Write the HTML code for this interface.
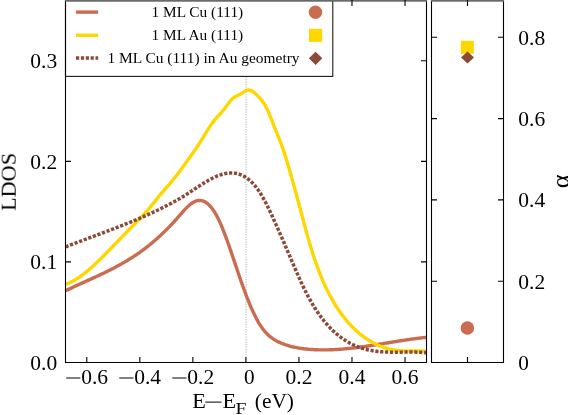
<!DOCTYPE html>
<html><head><meta charset="utf-8"><title>LDOS</title>
<style>html,body{margin:0;padding:0;background:#fff}svg{display:block}text{font-family:"Liberation Serif",serif;fill:#000}</style>
</head><body>
<svg width="568" height="415" viewBox="0 0 568 415">
<rect x="0" y="0" width="568" height="415" fill="#fff"/>
<line x1="246.1" y1="76.5" x2="246.1" y2="362" stroke="#c8c8c8" stroke-width="1.4" stroke-dasharray="1.2 1.3"/>
<path d="M65.50 290.83L66.50 290.34L67.50 289.85L68.50 289.37L69.50 288.89L70.50 288.42L71.50 287.95L72.50 287.48L73.50 287.01L74.50 286.54L75.50 286.08L76.50 285.62L77.50 285.16L78.50 284.70L79.50 284.24L80.50 283.78L81.50 283.33L82.50 282.87L83.50 282.42L84.50 281.96L85.50 281.51L86.50 281.06L87.50 280.60L88.50 280.15L89.50 279.70L90.50 279.24L91.50 278.78L92.50 278.33L93.50 277.87L94.50 277.41L95.50 276.95L96.50 276.49L97.50 276.02L98.50 275.56L99.50 275.09L100.50 274.62L101.50 274.14L102.50 273.67L103.50 273.19L104.50 272.71L105.50 272.22L106.50 271.73L107.50 271.24L108.50 270.74L109.50 270.24L110.50 269.74L111.50 269.23L112.50 268.72L113.50 268.20L114.50 267.68L115.50 267.15L116.50 266.61L117.50 266.08L118.50 265.53L119.50 264.98L120.50 264.43L121.50 263.87L122.50 263.30L123.50 262.72L124.50 262.14L125.50 261.56L126.50 260.96L127.50 260.36L128.50 259.75L129.50 259.14L130.50 258.51L131.50 257.88L132.50 257.24L133.50 256.59L134.50 255.94L135.50 255.27L136.50 254.60L137.50 253.92L138.50 253.23L139.50 252.53L140.50 251.82L141.50 251.10L142.50 250.37L143.50 249.63L144.50 248.88L145.50 248.12L146.50 247.35L147.50 246.57L148.50 245.78L149.50 244.98L150.50 244.17L151.50 243.35L152.50 242.51L153.50 241.67L154.50 240.81L155.50 239.94L156.50 239.06L157.50 238.17L158.50 237.27L159.50 236.36L160.50 235.43L161.50 234.49L162.50 233.55L163.50 232.59L164.50 231.61L165.50 230.63L166.50 229.64L167.50 228.63L168.50 227.61L169.50 226.58L170.50 225.53L171.50 224.48L172.50 223.41L173.50 222.33L174.50 221.24L175.50 220.13L176.50 219.01L177.50 217.88L178.50 216.74L179.50 215.59L180.50 214.44L181.50 213.30L182.50 212.16L183.50 211.05L184.50 209.96L185.50 208.89L186.50 207.87L187.50 206.88L188.50 205.94L189.50 205.06L190.50 204.23L191.50 203.47L192.50 202.79L193.50 202.18L194.50 201.65L195.50 201.21L196.50 200.87L197.50 200.62L198.50 200.46L199.50 200.40L200.50 200.44L201.50 200.58L202.50 200.82L203.50 201.16L204.50 201.61L205.50 202.15L206.50 202.81L207.50 203.57L208.50 204.43L209.50 205.41L210.50 206.49L211.50 207.69L212.50 208.99L213.50 210.41L214.50 211.95L215.50 213.60L216.50 215.37L217.50 217.25L218.50 219.25L219.50 221.37L220.50 223.59L221.50 225.91L222.50 228.32L223.50 230.81L224.50 233.39L225.50 236.03L226.50 238.74L227.50 241.50L228.50 244.32L229.50 247.18L230.50 250.07L231.50 253.00L232.50 255.94L233.50 258.91L234.50 261.88L235.50 264.85L236.50 267.82L237.50 270.78L238.50 273.72L239.50 276.65L240.50 279.55L241.50 282.42L242.50 285.25L243.50 288.05L244.50 290.79L245.50 293.49L246.50 296.13L247.50 298.71L248.50 301.22L249.50 303.67L250.50 306.05L251.50 308.37L252.50 310.60L253.50 312.77L254.50 314.85L255.50 316.86L256.50 318.78L257.50 320.62L258.50 322.38L259.50 324.04L260.50 325.61L261.50 327.09L262.50 328.49L263.50 329.80L264.50 331.03L265.50 332.18L266.50 333.27L267.50 334.28L268.50 335.23L269.50 336.11L270.50 336.94L271.50 337.71L272.50 338.43L273.50 339.11L274.50 339.74L275.50 340.33L276.50 340.89L277.50 341.41L278.50 341.90L279.50 342.37L280.50 342.82L281.50 343.24L282.50 343.65L283.50 344.04L284.50 344.41L285.50 344.76L286.50 345.10L287.50 345.42L288.50 345.72L289.50 346.01L290.50 346.29L291.50 346.55L292.50 346.79L293.50 347.02L294.50 347.24L295.50 347.45L296.50 347.65L297.50 347.83L298.50 348.00L299.50 348.17L300.50 348.32L301.50 348.46L302.50 348.60L303.50 348.73L304.50 348.84L305.50 348.96L306.50 349.06L307.50 349.16L308.50 349.26L309.50 349.34L310.50 349.42L311.50 349.49L312.50 349.56L313.50 349.62L314.50 349.68L315.50 349.73L316.50 349.77L317.50 349.81L318.50 349.84L319.50 349.86L320.50 349.88L321.50 349.90L322.50 349.91L323.50 349.91L324.50 349.91L325.50 349.90L326.50 349.89L327.50 349.87L328.50 349.85L329.50 349.82L330.50 349.79L331.50 349.76L332.50 349.72L333.50 349.67L334.50 349.62L335.50 349.57L336.50 349.51L337.50 349.45L338.50 349.38L339.50 349.31L340.50 349.23L341.50 349.16L342.50 349.07L343.50 348.99L344.50 348.90L345.50 348.81L346.50 348.71L347.50 348.61L348.50 348.51L349.50 348.40L350.50 348.29L351.50 348.18L352.50 348.07L353.50 347.95L354.50 347.83L355.50 347.71L356.50 347.58L357.50 347.45L358.50 347.32L359.50 347.19L360.50 347.05L361.50 346.92L362.50 346.78L363.50 346.64L364.50 346.49L365.50 346.35L366.50 346.20L367.50 346.05L368.50 345.90L369.50 345.75L370.50 345.60L371.50 345.44L372.50 345.29L373.50 345.13L374.50 344.97L375.50 344.81L376.50 344.66L377.50 344.49L378.50 344.33L379.50 344.17L380.50 344.01L381.50 343.85L382.50 343.68L383.50 343.52L384.50 343.36L385.50 343.19L386.50 343.03L387.50 342.86L388.50 342.70L389.50 342.54L390.50 342.37L391.50 342.21L392.50 342.05L393.50 341.89L394.50 341.72L395.50 341.56L396.50 341.40L397.50 341.24L398.50 341.09L399.50 340.93L400.50 340.77L401.50 340.62L402.50 340.46L403.50 340.31L404.50 340.16L405.50 340.01L406.50 339.86L407.50 339.72L408.50 339.57L409.50 339.43L410.50 339.29L411.50 339.15L412.50 339.02L413.50 338.88L414.50 338.75L415.50 338.62L416.50 338.49L417.50 338.37L418.50 338.25L419.50 338.13L420.50 338.01L421.50 337.90L422.50 337.79L423.50 337.68L424.50 337.58L425.50 337.48L426.50 337.38" fill="none" stroke="#CB6C50" stroke-width="3.4" stroke-linejoin="round"/>
<path d="M65.50 284.20L66.50 283.87L67.50 283.52L68.50 283.13L69.50 282.71L70.50 282.27L71.50 281.79L72.50 281.29L73.50 280.77L74.50 280.21L75.50 279.63L76.50 279.03L77.50 278.40L78.50 277.75L79.50 277.08L80.50 276.38L81.50 275.67L82.50 274.93L83.50 274.17L84.50 273.40L85.50 272.60L86.50 271.79L87.50 270.96L88.50 270.11L89.50 269.25L90.50 268.38L91.50 267.49L92.50 266.58L93.50 265.67L94.50 264.74L95.50 263.80L96.50 262.84L97.50 261.88L98.50 260.91L99.50 259.93L100.50 258.95L101.50 257.95L102.50 256.95L103.50 255.94L104.50 254.93L105.50 253.91L106.50 252.89L107.50 251.87L108.50 250.84L109.50 249.81L110.50 248.79L111.50 247.76L112.50 246.72L113.50 245.69L114.50 244.66L115.50 243.63L116.50 242.60L117.50 241.57L118.50 240.54L119.50 239.50L120.50 238.47L121.50 237.44L122.50 236.41L123.50 235.38L124.50 234.35L125.50 233.32L126.50 232.29L127.50 231.27L128.50 230.24L129.50 229.21L130.50 228.19L131.50 227.17L132.50 226.15L133.50 225.13L134.50 224.11L135.50 223.09L136.50 222.08L137.50 221.06L138.50 220.04L139.50 219.02L140.50 217.99L141.50 216.95L142.50 215.90L143.50 214.83L144.50 213.76L145.50 212.66L146.50 211.55L147.50 210.42L148.50 209.27L149.50 208.09L150.50 206.89L151.50 205.67L152.50 204.42L153.50 203.17L154.50 201.90L155.50 200.63L156.50 199.36L157.50 198.10L158.50 196.85L159.50 195.61L160.50 194.40L161.50 193.21L162.50 192.04L163.50 190.88L164.50 189.74L165.50 188.60L166.50 187.46L167.50 186.33L168.50 185.19L169.50 184.04L170.50 182.87L171.50 181.69L172.50 180.50L173.50 179.27L174.50 178.03L175.50 176.76L176.50 175.48L177.50 174.17L178.50 172.85L179.50 171.52L180.50 170.17L181.50 168.81L182.50 167.45L183.50 166.07L184.50 164.68L185.50 163.29L186.50 161.90L187.50 160.51L188.50 159.11L189.50 157.71L190.50 156.31L191.50 154.90L192.50 153.48L193.50 152.06L194.50 150.62L195.50 149.17L196.50 147.70L197.50 146.22L198.50 144.71L199.50 143.19L200.50 141.65L201.50 140.08L202.50 138.48L203.50 136.86L204.50 135.22L205.50 133.58L206.50 131.94L207.50 130.31L208.50 128.70L209.50 127.12L210.50 125.59L211.50 124.12L212.50 122.70L213.50 121.36L214.50 120.11L215.50 118.92L216.50 117.79L217.50 116.70L218.50 115.63L219.50 114.57L220.50 113.49L221.50 112.38L222.50 111.21L223.50 109.99L224.50 108.68L225.50 107.30L226.50 105.90L227.50 104.50L228.50 103.13L229.50 101.84L230.50 100.65L231.50 99.59L232.50 98.69L233.50 97.91L234.50 97.23L235.50 96.63L236.50 96.08L237.50 95.55L238.50 95.03L239.50 94.48L240.50 93.93L241.50 93.34L242.50 92.72L243.50 92.06L244.50 91.42L245.50 90.84L246.50 90.37L247.50 90.07L248.50 89.99L249.50 90.10L250.50 90.38L251.50 90.82L252.50 91.39L253.50 92.07L254.50 92.84L255.50 93.70L256.50 94.63L257.50 95.63L258.50 96.68L259.50 97.77L260.50 98.89L261.50 100.06L262.50 101.31L263.50 102.69L264.50 104.22L265.50 105.94L266.50 107.87L267.50 109.97L268.50 112.22L269.50 114.59L270.50 117.05L271.50 119.58L272.50 122.14L273.50 124.72L274.50 127.28L275.50 129.80L276.50 132.27L277.50 134.72L278.50 137.18L279.50 139.67L280.50 142.21L281.50 144.82L282.50 147.54L283.50 150.39L284.50 153.38L285.50 156.50L286.50 159.73L287.50 163.06L288.50 166.48L289.50 169.96L290.50 173.50L291.50 177.07L292.50 180.66L293.50 184.26L294.50 187.88L295.50 191.51L296.50 195.15L297.50 198.82L298.50 202.50L299.50 206.19L300.50 209.91L301.50 213.65L302.50 217.40L303.50 221.14L304.50 224.87L305.50 228.57L306.50 232.23L307.50 235.83L308.50 239.37L309.50 242.82L310.50 246.18L311.50 249.45L312.50 252.63L313.50 255.72L314.50 258.73L315.50 261.65L316.50 264.49L317.50 267.25L318.50 269.93L319.50 272.53L320.50 275.06L321.50 277.51L322.50 279.90L323.50 282.21L324.50 284.46L325.50 286.64L326.50 288.75L327.50 290.81L328.50 292.80L329.50 294.74L330.50 296.61L331.50 298.44L332.50 300.21L333.50 301.93L334.50 303.60L335.50 305.22L336.50 306.80L337.50 308.33L338.50 309.82L339.50 311.27L340.50 312.68L341.50 314.06L342.50 315.40L343.50 316.70L344.50 317.98L345.50 319.22L346.50 320.43L347.50 321.61L348.50 322.76L349.50 323.88L350.50 324.97L351.50 326.04L352.50 327.07L353.50 328.07L354.50 329.05L355.50 330.00L356.50 330.92L357.50 331.82L358.50 332.69L359.50 333.54L360.50 334.36L361.50 335.15L362.50 335.93L363.50 336.68L364.50 337.40L365.50 338.11L366.50 338.79L367.50 339.45L368.50 340.09L369.50 340.71L370.50 341.31L371.50 341.89L372.50 342.45L373.50 342.99L374.50 343.51L375.50 344.01L376.50 344.49L377.50 344.95L378.50 345.40L379.50 345.82L380.50 346.23L381.50 346.62L382.50 346.99L383.50 347.34L384.50 347.67L385.50 347.98L386.50 348.28L387.50 348.56L388.50 348.82L389.50 349.06L390.50 349.29L391.50 349.49L392.50 349.69L393.50 349.86L394.50 350.02L395.50 350.17L396.50 350.30L397.50 350.42L398.50 350.52L399.50 350.62L400.50 350.70L401.50 350.77L402.50 350.83L403.50 350.89L404.50 350.93L405.50 350.97L406.50 351.00L407.50 351.02L408.50 351.04L409.50 351.05L410.50 351.06L411.50 351.06L412.50 351.07L413.50 351.06L414.50 351.06L415.50 351.06L416.50 351.05L417.50 351.05L418.50 351.05L419.50 351.04L420.50 351.05L421.50 351.05L422.50 351.06L423.50 351.07L424.50 351.09L425.50 351.11L426.50 351.14" fill="none" stroke="#FFD700" stroke-width="3.4" stroke-linejoin="round"/>
<path d="M65.50 246.89L66.50 246.50L67.50 246.11L68.50 245.73L69.50 245.34L70.50 244.96L71.50 244.58L72.50 244.20L73.50 243.82L74.50 243.44L75.50 243.06L76.50 242.68L77.50 242.30L78.50 241.93L79.50 241.55L80.50 241.18L81.50 240.80L82.50 240.43L83.50 240.06L84.50 239.68L85.50 239.31L86.50 238.94L87.50 238.57L88.50 238.19L89.50 237.82L90.50 237.45L91.50 237.08L92.50 236.71L93.50 236.34L94.50 235.97L95.50 235.59L96.50 235.22L97.50 234.85L98.50 234.48L99.50 234.11L100.50 233.73L101.50 233.36L102.50 232.99L103.50 232.61L104.50 232.24L105.50 231.86L106.50 231.48L107.50 231.11L108.50 230.73L109.50 230.35L110.50 229.97L111.50 229.59L112.50 229.21L113.50 228.83L114.50 228.44L115.50 228.06L116.50 227.67L117.50 227.29L118.50 226.90L119.50 226.51L120.50 226.12L121.50 225.73L122.50 225.33L123.50 224.94L124.50 224.54L125.50 224.14L126.50 223.74L127.50 223.34L128.50 222.93L129.50 222.53L130.50 222.12L131.50 221.71L132.50 221.30L133.50 220.89L134.50 220.47L135.50 220.06L136.50 219.64L137.50 219.21L138.50 218.79L139.50 218.36L140.50 217.93L141.50 217.50L142.50 217.07L143.50 216.63L144.50 216.19L145.50 215.75L146.50 215.31L147.50 214.86L148.50 214.41L149.50 213.96L150.50 213.51L151.50 213.05L152.50 212.59L153.50 212.12L154.50 211.65L155.50 211.18L156.50 210.71L157.50 210.23L158.50 209.75L159.50 209.27L160.50 208.78L161.50 208.29L162.50 207.80L163.50 207.30L164.50 206.80L165.50 206.30L166.50 205.79L167.50 205.27L168.50 204.75L169.50 204.23L170.50 203.70L171.50 203.16L172.50 202.62L173.50 202.08L174.50 201.52L175.50 200.97L176.50 200.40L177.50 199.83L178.50 199.26L179.50 198.67L180.50 198.08L181.50 197.48L182.50 196.88L183.50 196.26L184.50 195.64L185.50 195.02L186.50 194.38L187.50 193.74L188.50 193.09L189.50 192.44L190.50 191.78L191.50 191.12L192.50 190.46L193.50 189.80L194.50 189.13L195.50 188.47L196.50 187.81L197.50 187.15L198.50 186.50L199.50 185.85L200.50 185.21L201.50 184.57L202.50 183.94L203.50 183.31L204.50 182.70L205.50 182.09L206.50 181.50L207.50 180.92L208.50 180.35L209.50 179.79L210.50 179.25L211.50 178.72L212.50 178.21L213.50 177.72L214.50 177.24L215.50 176.79L216.50 176.35L217.50 175.94L218.50 175.55L219.50 175.18L220.50 174.83L221.50 174.52L222.50 174.22L223.50 173.96L224.50 173.72L225.50 173.52L226.50 173.34L227.50 173.20L228.50 173.08L229.50 173.01L230.50 172.96L231.50 172.96L232.50 172.99L233.50 173.05L234.50 173.16L235.50 173.31L236.50 173.49L237.50 173.72L238.50 174.00L239.50 174.31L240.50 174.68L241.50 175.08L242.50 175.54L243.50 176.04L244.50 176.60L245.50 177.20L246.50 177.86L247.50 178.56L248.50 179.33L249.50 180.15L250.50 181.03L251.50 181.97L252.50 182.97L253.50 184.04L254.50 185.17L255.50 186.37L256.50 187.64L257.50 188.98L258.50 190.39L259.50 191.87L260.50 193.43L261.50 195.07L262.50 196.78L263.50 198.55L264.50 200.38L265.50 202.27L266.50 204.22L267.50 206.21L268.50 208.25L269.50 210.33L270.50 212.44L271.50 214.58L272.50 216.76L273.50 218.95L274.50 221.16L275.50 223.39L276.50 225.63L277.50 227.88L278.50 230.14L279.50 232.41L280.50 234.69L281.50 236.97L282.50 239.27L283.50 241.57L284.50 243.88L285.50 246.20L286.50 248.52L287.50 250.85L288.50 253.18L289.50 255.52L290.50 257.86L291.50 260.21L292.50 262.55L293.50 264.88L294.50 267.21L295.50 269.53L296.50 271.83L297.50 274.11L298.50 276.37L299.50 278.61L300.50 280.82L301.50 282.99L302.50 285.13L303.50 287.23L304.50 289.29L305.50 291.31L306.50 293.28L307.50 295.20L308.50 297.08L309.50 298.91L310.50 300.70L311.50 302.45L312.50 304.15L313.50 305.81L314.50 307.43L315.50 309.01L316.50 310.55L317.50 312.04L318.50 313.50L319.50 314.93L320.50 316.31L321.50 317.66L322.50 318.97L323.50 320.24L324.50 321.48L325.50 322.69L326.50 323.86L327.50 325.00L328.50 326.11L329.50 327.18L330.50 328.23L331.50 329.24L332.50 330.22L333.50 331.18L334.50 332.10L335.50 333.00L336.50 333.87L337.50 334.72L338.50 335.53L339.50 336.32L340.50 337.09L341.50 337.83L342.50 338.55L343.50 339.24L344.50 339.91L345.50 340.56L346.50 341.18L347.50 341.78L348.50 342.36L349.50 342.92L350.50 343.46L351.50 343.97L352.50 344.47L353.50 344.94L354.50 345.40L355.50 345.84L356.50 346.25L357.50 346.65L358.50 347.03L359.50 347.40L360.50 347.74L361.50 348.07L362.50 348.39L363.50 348.68L364.50 348.97L365.50 349.23L366.50 349.48L367.50 349.72L368.50 349.95L369.50 350.16L370.50 350.35L371.50 350.54L372.50 350.71L373.50 350.87L374.50 351.02L375.50 351.15L376.50 351.28L377.50 351.40L378.50 351.50L379.50 351.60L380.50 351.69L381.50 351.76L382.50 351.83L383.50 351.90L384.50 351.95L385.50 352.00L386.50 352.04L387.50 352.08L388.50 352.10L389.50 352.13L390.50 352.15L391.50 352.16L392.50 352.17L393.50 352.17L394.50 352.18L395.50 352.18L396.50 352.17L397.50 352.16L398.50 352.16L399.50 352.15L400.50 352.14L401.50 352.13L402.50 352.11L403.50 352.10L404.50 352.09L405.50 352.08L406.50 352.07L407.50 352.07L408.50 352.06L409.50 352.06L410.50 352.06L411.50 352.06L412.50 352.07L413.50 352.08L414.50 352.10L415.50 352.12L416.50 352.15L417.50 352.18L418.50 352.22L419.50 352.26L420.50 352.32L421.50 352.38L422.50 352.44L423.50 352.52L424.50 352.60L425.50 352.70L426.50 352.80" fill="none" stroke="#8B4A38" stroke-width="3.5" stroke-dasharray="3.2 1.67" stroke-linejoin="round"/>
<rect x="65.5" y="0.5" width="267.3" height="75.9" fill="#fff" stroke="#1a1a1a" stroke-width="1.1"/>
<line x1="76" y1="12.1" x2="98.2" y2="12.1" stroke="#CB6C50" stroke-width="3.4"/>
<line x1="76" y1="35.3" x2="98.2" y2="35.3" stroke="#FFD700" stroke-width="3.4"/>
<line x1="76" y1="58" x2="98.2" y2="58" stroke="#8B4A38" stroke-width="3.4" stroke-dasharray="3.2 1.67"/>
<circle cx="315.5" cy="12.2" r="6.7" fill="#CB6C50"/>
<rect x="309" y="28.8" width="13.2" height="13.1" fill="#FFD700"/>
<path d="M315.6 51.8L322.3 58.3L315.6 64.9L308.9 58.3Z" fill="#8B4A38"/>
<rect x="0" y="0" width="0" height="0"/>
<path d="M65.5 0V362.5H426.5V0" fill="none" stroke="#000" stroke-width="1.1"/>
<path d="M431.5 0V362.5H503.5V0" fill="none" stroke="#000" stroke-width="1.1"/>
<rect x="65" y="0" width="362" height="1.7" fill="#6a6a6a"/>
<rect x="431" y="0" width="73" height="1.7" fill="#6a6a6a"/>
<path d="M86.78 362.5v-5.5M139.82 362.5v-5.5M192.86 362.5v-5.5M245.90 362.5v-5.5M298.94 362.5v-5.5M351.98 362.5v-5.5M351.98 0v6M405.02 362.5v-5.5M405.02 0v6M65.5 261.92h5.5M426.5 261.92h-5.5M65.5 161.34h5.5M426.5 161.34h-5.5M426.5 60.76h-5.5M431.5 281.20h5.5M503.5 281.20h-5.5M431.5 199.90h5.5M503.5 199.90h-5.5M431.5 118.60h5.5M503.5 118.60h-5.5M431.5 37.30h5.5M503.5 37.30h-5.5M467.5 362.5v-5.5M467.5 0v6" stroke="#000" stroke-width="1.1" fill="none"/>
<circle cx="467.4" cy="328" r="6.8" fill="#CB6C50"/>
<rect x="460.8" y="40.8" width="13" height="13" fill="#FFD700"/>
<path d="M467.5 51.4L474 57.5L467.5 63.6L461 57.5Z" fill="#8B4A38"/>
<g opacity="0.995">
<text x="30.3" y="369.8" font-size="21.1" text-anchor="start" textLength="26.9" lengthAdjust="spacingAndGlyphs">0.0</text>
<text x="30.3" y="269.2" font-size="21.1" text-anchor="start" textLength="26.9" lengthAdjust="spacingAndGlyphs">0.1</text>
<text x="30.3" y="168.6" font-size="21.1" text-anchor="start" textLength="26.9" lengthAdjust="spacingAndGlyphs">0.2</text>
<text x="30.3" y="68.1" font-size="21.1" text-anchor="start" textLength="26.9" lengthAdjust="spacingAndGlyphs">0.3</text>
<rect x="66.18" y="377.5" width="14.2" height="1" fill="#000"/>
<text x="81.18" y="384.3" font-size="21.1" text-anchor="start" textLength="26.9" lengthAdjust="spacingAndGlyphs">0.6</text>
<rect x="119.22" y="377.5" width="14.2" height="1" fill="#000"/>
<text x="134.22" y="384.3" font-size="21.1" text-anchor="start" textLength="26.9" lengthAdjust="spacingAndGlyphs">0.4</text>
<rect x="172.26" y="377.5" width="14.2" height="1" fill="#000"/>
<text x="187.26" y="384.3" font-size="21.1" text-anchor="start" textLength="26.9" lengthAdjust="spacingAndGlyphs">0.2</text>
<text x="244.0" y="384.3" font-size="21.1" text-anchor="start" textLength="10.6" lengthAdjust="spacingAndGlyphs">0</text>
<text x="285.54" y="384.3" font-size="21.1" text-anchor="start" textLength="26.9" lengthAdjust="spacingAndGlyphs">0.2</text>
<text x="338.58" y="384.3" font-size="21.1" text-anchor="start" textLength="26.9" lengthAdjust="spacingAndGlyphs">0.4</text>
<text x="391.62" y="384.3" font-size="21.1" text-anchor="start" textLength="26.9" lengthAdjust="spacingAndGlyphs">0.6</text>
<text x="518.3" y="288.7" font-size="21.1" text-anchor="start" textLength="26.9" lengthAdjust="spacingAndGlyphs">0.2</text>
<text x="518.3" y="207.4" font-size="21.1" text-anchor="start" textLength="26.9" lengthAdjust="spacingAndGlyphs">0.4</text>
<text x="518.3" y="126.1" font-size="21.1" text-anchor="start" textLength="26.9" lengthAdjust="spacingAndGlyphs">0.6</text>
<text x="518.3" y="44.8" font-size="21.1" text-anchor="start" textLength="26.9" lengthAdjust="spacingAndGlyphs">0.8</text>
<text x="518.3" y="370.2" font-size="21.1" text-anchor="start" textLength="10.6" lengthAdjust="spacingAndGlyphs">0</text>
<text x="151.6" y="17" font-size="13.8" text-anchor="start" textLength="91.6" lengthAdjust="spacingAndGlyphs">1 ML Cu (111)</text>
<text x="151.6" y="40" font-size="13.8" text-anchor="start" textLength="91.6" lengthAdjust="spacingAndGlyphs">1 ML Au (111)</text>
<text x="107.4" y="63" font-size="13.8" text-anchor="start" textLength="192.2" lengthAdjust="spacingAndGlyphs">1 ML Cu (111) in Au geometry</text>
<text x="192.3" y="408.2" font-size="21.4" text-anchor="start" textLength="13.6" lengthAdjust="spacingAndGlyphs">E</text>
<rect x="205.3" y="401.6" width="16.3" height="1" fill="#000"/>
<text x="222.6" y="408.2" font-size="21.4" text-anchor="start" textLength="13.6" lengthAdjust="spacingAndGlyphs">E</text>
<text x="235.6" y="414" font-size="15.8" text-anchor="start" textLength="11" lengthAdjust="spacingAndGlyphs">F</text>
<text x="254.8" y="408.2" font-size="21.4" text-anchor="start" textLength="39.2" lengthAdjust="spacingAndGlyphs">(eV)</text>
<text transform="translate(15.7,210.9) rotate(-90)" font-size="21.9" textLength="58" lengthAdjust="spacingAndGlyphs">LDOS</text>
<text transform="translate(568.8,188.3) rotate(-90)" font-size="24.5" textLength="13.8" lengthAdjust="spacingAndGlyphs">α</text>
</g>
</svg>
</body></html>
